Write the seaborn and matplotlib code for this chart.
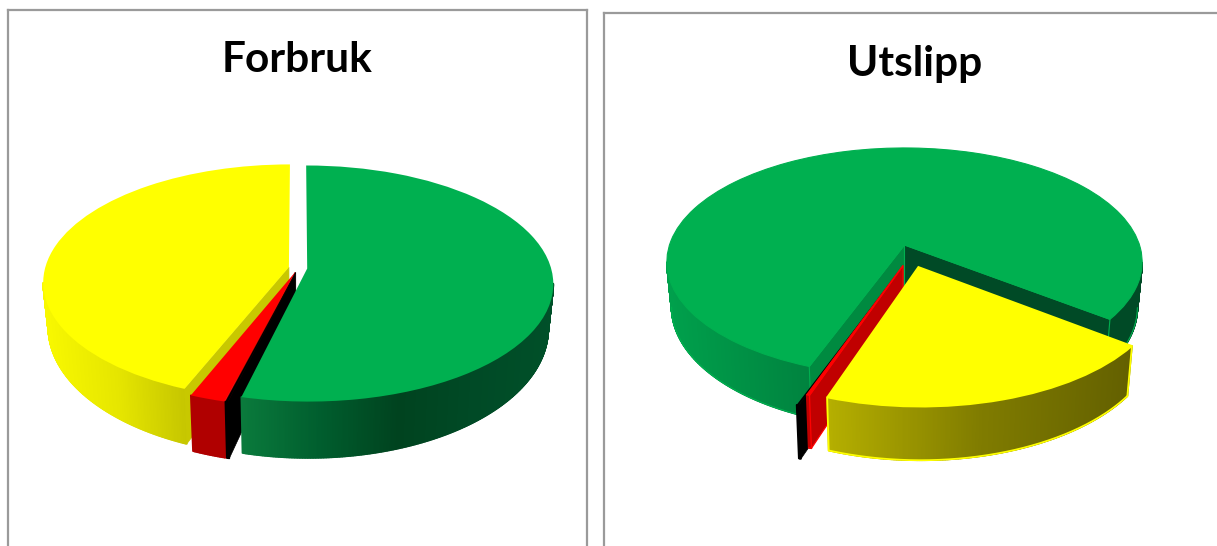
import numpy as np
import matplotlib
matplotlib.use("Agg")
import matplotlib.pyplot as plt
from matplotlib.collections import PolyCollection
from matplotlib.transforms import Transform
import seaborn as sns

sns.set_theme(style="white")
plt.rcParams["font.family"] = ["Lato", "DejaVu Sans"]

# Shares per energy carrier, clockwise from the first slice
forbruk_titles = "Forbruk"
forbruk_keys = ["gronn", "svart", "rod", "gul"]
forbruk_values = [53.88, 0.15, 2.07, 43.9]
forbruk_explode = [0.038, 0.038, 0.038, 0.038]
forbruk_nudge = [0.0, 0.0, 0.0, 0.0]

utslipp_titles = "Utslipp"
utslipp_keys = ["gronn", "gul", "rod", "svart"]
utslipp_values = [79.7, 20.0, 0.17, 0.13]
utslipp_explode = [0.0, 0.2, 0.19, 0.26]
utslipp_nudge = [0.0, 0.0, 0.058, 0.06]

TOP = {"gronn": "#00B050", "gul": "#FFFF00", "rod": "#FF0000", "svart": "#000000"}


class TiltedDisc(Transform):
    """Perspective view of the unit disc, in pixel-sized data units."""
    input_dims = output_dims = 2
    is_separable = False

    def __init__(self, a, b, k):
        super().__init__()
        self.a, self.b, self.k = a, b, k

    def transform_non_affine(self, xy):
        xy = np.asarray(xy, float)
        w = 1 + self.k * xy[:, 1]
        return np.column_stack([self.a * xy[:, 0] / w, self.b * xy[:, 1] / w])


def draw_pie(fig, rect, cx, cy, title, title_xy, keys, values, explode, nudge, start,
             geom, under, style):
    W, H = 1217, 546
    x0, y0, w, h = rect
    ax = fig.add_axes([x0 / W, 1 - (y0 + h) / H, w / W, h / H])
    tf = TiltedDisc(*geom)
    sy, drop = under

    def lower_rim(pts):
        # The underside of the disc sits lower and opens a little further
        return np.column_stack([0.98 * pts[:, 0], sy * pts[:, 1] - drop])

    wedges, _ = ax.pie(values, explode=explode, colors=[TOP[k] for k in keys],
                       startangle=90 - start, counterclock=False, normalize=True)
    ax.set_aspect("auto")
    ax.set_xlim(x0 - cx, x0 + w - cx)
    ax.set_ylim(cy - (y0 + h), cy - y0)
    ax.set_frame_on(True)
    for s in ax.spines.values():
        s.set_color("#9a9a9a")
        s.set_linewidth(1.6)

    edges = start + np.cumsum([0] + list(values)) * 3.6
    for i, (key, wedge) in enumerate(zip(keys, wedges)):
        st = style[key]
        z = 2 + 3 * st["order"]
        p1, p2 = edges[i], edges[i + 1]
        mid = np.radians((p1 + p2) / 2)
        off = explode[i] * np.array([np.sin(mid), np.cos(mid)]) + np.array([nudge[i], 0.0])

        wedge.set_center(tuple(off))
        wedge.set_transform(tf + ax.transData)
        wedge.set_zorder(z + 2)
        wedge.set_edgecolor(st.get("edge", "none"))
        wedge.set_linewidth(st.get("edge_lw", 0))

        # outer wall, shaded along its screen extent; starts at the disc's widest point
        phi = np.radians(np.linspace(p1, p2, max(int(p2 - p1) * 3, 3)))
        near = np.cos(phi) < -geom[2]
        rim = tf.transform(np.column_stack([off[0] + np.sin(phi), off[1] + np.cos(phi)]))
        low = lower_rim(rim)
        tone = sns.blend_palette(st["wall"], n_colors=256)
        lo, hi = st.get("span", (rim[near, 0].min(), rim[near, 0].max()))
        quads, fills = [], []
        for j in range(len(rim) - 1):
            if not (near[j] and near[j + 1]):
                continue
            quads.append([rim[j], rim[j + 1], low[j + 1], low[j]])
            t = (0.5 * (rim[j, 0] + rim[j + 1, 0]) - lo) / max(hi - lo, 1)
            fills.append(tone[int(np.clip(t, 0, 1) * 255)])
        ax.add_collection(PolyCollection(quads, facecolors=fills, edgecolors=fills,
                                         linewidths=1.2, zorder=z, clip_on=False))
        if "edge" in st:
            ax.plot(np.where(near, low[:, 0], np.nan), low[:, 1],
                    color=st["edge"], lw=st["edge_lw"], zorder=z + 1)
        if st.get("sides"):
            for end in (0, -1):
                ax.plot([rim[end, 0], low[end, 0]], [rim[end, 1], low[end, 1]],
                        color=st["edge"], lw=st["edge_lw"], zorder=z + 1)

        # cut faces turned towards the viewer
        apex = tf.transform(off[None, :])
        for ang, normal, col in ((p1, p1 - 90, st["face1"]), (p2, p2 + 90, st["face2"])):
            if np.cos(np.radians(normal)) >= 0:
                continue
            r = np.radians(ang)
            tip = tf.transform(np.array([[off[0] + np.sin(r), off[1] + np.cos(r)]]))
            pts = np.vstack([apex, tip, lower_rim(tip), lower_rim(apex)])
            ax.fill(pts[:, 0], pts[:, 1], facecolor=col, edgecolor=st.get("edge", col),
                    linewidth=st.get("edge_lw", 0.5), zorder=z + 1)

    ax.text(title_xy[0] - cx, cy - title_xy[1], title, ha="center", va="center",
            fontsize=30.5, fontweight="bold", color="black", zorder=30)
    return ax


fig = plt.figure(figsize=(12.17, 5.46), dpi=100, facecolor="white")

draw_pie(fig, (8, 10, 579, 620), 298, 268, forbruk_titles, (297, 60),
         forbruk_keys, forbruk_values, forbruk_explode, forbruk_nudge, 0.0,
         (243.8, 116.0, 0.127), (1.1, 43),
         {"gul": {"order": 0, "wall": ["#F8F800", "#E6E600", "#C4C400"],
                  "face1": "#C8C800", "face2": "#C8C800", "span": (-255, -110)},
          "rod": {"order": 1, "wall": ["#B00000", "#B00000"],
                  "face1": "#B00000", "face2": "#B00000"},
          "svart": {"order": 2, "wall": ["#000000", "#000000"],
                    "face1": "#000000", "face2": "#000000"},
          "gronn": {"order": 3, "wall": ["#0A7A3C", "#005E2E", "#00431F", "#004A26", "#005029"],
                    "face1": "#00803E", "face2": "#00803E", "span": (-57, 255)}})

draw_pie(fig, (604, 13, 700, 620), 904.5, 245, utslipp_titles, (915, 64),
         utslipp_keys, utslipp_values, utslipp_explode, utslipp_nudge, 200.4,
         (235.0, 111.5, 0.149), (1.06, 44),
         {"gronn": {"order": 0, "wall": ["#00A04C", "#007F3D", "#004A26", "#004A26"],
                    "face1": "#008A40", "face2": "#004A26", "span": (-237, 237),
                    "edge": "#00B050", "edge_lw": 0.8},
          "svart": {"order": 1, "wall": ["#000000", "#000000"],
                    "face1": "#000000", "face2": "#000000"},
          "rod": {"order": 2, "wall": ["#C00000", "#C00000"],
                  "face1": "#C00000", "face2": "#C00000",
                  "edge": "#FF0000", "edge_lw": 0.9},
          "gul": {"order": 3, "wall": ["#B5AF00", "#807C00", "#636000"],
                  "face1": "#807C00", "face2": "#807C00",
                  "edge": "#FFFF00", "edge_lw": 1.3, "sides": True}})

fig.savefig("out.png", dpi=100)
